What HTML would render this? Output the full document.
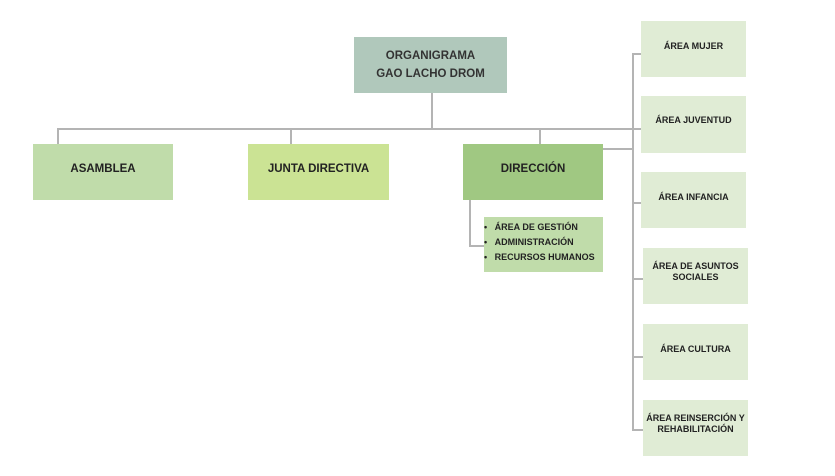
<!DOCTYPE html>
<html><head><meta charset="utf-8"><style>
body{margin:0;width:835px;height:476px;background:#fff;position:relative;overflow:hidden;font-family:"Liberation Sans",sans-serif;font-weight:bold;color:#222}
.b{position:absolute;display:flex;align-items:center;justify-content:center;text-align:center;box-sizing:border-box}
.l{position:absolute;background:#b4b4b4}
.r{background:#e0ecd5;font-size:9px;line-height:11px;padding-bottom:4px}
.m{font-size:11.5px}
</style></head><body>
<div class="l" style="left:431px;top:93px;width:2px;height:37px"></div>
<div class="l" style="left:57px;top:128px;width:584px;height:2px"></div>
<div class="l" style="left:57px;top:128px;width:2px;height:16px"></div>
<div class="l" style="left:290px;top:128px;width:2px;height:16px"></div>
<div class="l" style="left:539px;top:128px;width:2px;height:16px"></div>
<div class="l" style="left:632px;top:53px;width:2px;height:377px"></div>
<div class="l" style="left:603px;top:148px;width:30px;height:2px"></div>
<div class="l" style="left:469px;top:199px;width:2px;height:48px"></div>
<div class="l" style="left:469px;top:245px;width:15px;height:2px"></div>
<div class="l" style="left:632px;top:53px;width:9px;height:2px"></div>
<div class="l" style="left:632px;top:128px;width:9px;height:2px"></div>
<div class="l" style="left:632px;top:202px;width:9px;height:2px"></div>
<div class="l" style="left:632px;top:278px;width:11px;height:2px"></div>
<div class="l" style="left:632px;top:356px;width:11px;height:2px"></div>
<div class="l" style="left:632px;top:429px;width:11px;height:2px"></div>
<div class="b m" style="left:354px;top:37px;width:153px;height:56px;background:#b0c8bb;line-height:18px;color:#333">ORGANIGRAMA<br>GAO LACHO DROM</div>
<div class="b m" style="left:33px;top:144px;width:140px;height:56px;background:#c0dcaa;padding-bottom:6px">ASAMBLEA</div>
<div class="b m" style="left:248px;top:144px;width:141px;height:56px;background:#cbe394;padding-bottom:6px">JUNTA DIRECTIVA</div>
<div class="b m" style="left:463px;top:144px;width:140px;height:56px;background:#a0c882;padding-bottom:6px">DIRECCIÓN</div>
<div class="b" style="left:484px;top:217px;width:119px;height:55px;background:#c0dcaa;font-size:9px;line-height:15px;justify-content:flex-start;padding-left:0">
<div style="text-align:left;padding-bottom:4px">
<div>•&nbsp;&nbsp;&nbsp;ÁREA DE GESTIÓN</div><div>•&nbsp;&nbsp;&nbsp;ADMINISTRACIÓN</div><div>•&nbsp;&nbsp;&nbsp;RECURSOS HUMANOS</div></div></div>
<div class="b r" style="left:641px;top:21px;width:105px;height:56px;padding-bottom:6px">ÁREA MUJER</div>
<div class="b r" style="left:641px;top:96px;width:105px;height:57px;padding-bottom:8px">ÁREA JUVENTUD</div>
<div class="b r" style="left:641px;top:172px;width:105px;height:56px;padding-bottom:6px">ÁREA INFANCIA</div>
<div class="b r" style="left:643px;top:248px;width:105px;height:56px;padding-bottom:8px">ÁREA DE ASUNTOS<br>SOCIALES</div>
<div class="b r" style="left:643px;top:324px;width:105px;height:56px;padding-bottom:6px">ÁREA CULTURA</div>
<div class="b r" style="left:643px;top:400px;width:105px;height:56px;padding-bottom:8px">ÁREA REINSERCIÓN Y<br>REHABILITACIÓN</div>
</body></html>
